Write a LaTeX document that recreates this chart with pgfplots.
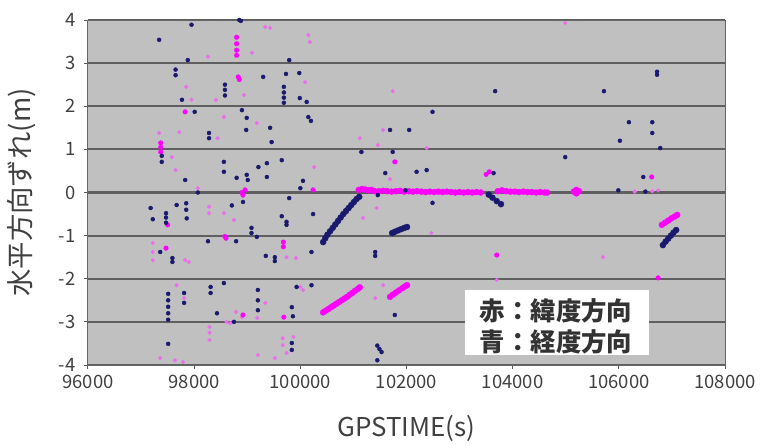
\documentclass[border=0pt]{standalone}
\usepackage{fontspec}
\setmainfont{Noto Sans CJK JP}
\usepackage{pgfplots}
\pgfplotsset{compat=1.18}
\definecolor{bg}{RGB}{192,192,192}
\definecolor{gridc}{RGB}{95,95,95}
\definecolor{navyc}{RGB}{25,25,110}
\definecolor{magc}{RGB}{255,0,255}
\definecolor{palemag}{RGB}{236,110,236}
\begin{document}
\begin{tikzpicture}
\begin{axis}[name=ax, scale only axis, width=637bp, height=345bp,
 xmin=96000, xmax=108000, ymin=-4, ymax=4,
 xtick={96000,98000,100000,102000,104000,106000,108000},
 xticklabels={96000,98000,100000,102000,104000,106000,108000},
 ytick={-4,-3,-2,-1,0,1,2,3,4},
 yticklabels={-4,-3,-2,-1,0,1,2,3,4},
 scaled x ticks=false,
 ticklabel style={font=\fontsize{18.5}{18.5}\selectfont, text=black!75},
 yticklabel style={xshift=-5bp},
 xticklabel style={yshift=-3bp},
 ymajorgrids, major grid style={draw=gridc, line width=2.2bp},
 axis line style={draw=gray!80!black, line width=1bp},
 tick style={draw=gray!70!black, line width=1bp},
 tick align=outside, major tick length=4bp,
 xtick pos=bottom, ytick pos=left,
 axis background/.style={fill=bg},
 xlabel={GPSTIME(s)}, ylabel={水平方向ずれ(m)},
 xlabel style={font=\fontsize{26}{26}\selectfont, text=black!75, at={(axis description cs:0.5,-0.183)}, anchor=center},
 ylabel style={font=\fontsize{27.5}{27.5}\selectfont, text=black!75, at={(axis description cs:-0.104,0.5)}, anchor=center},
]
% pale magenta scatter (latitude)
\addplot[only marks, mark=*, mark size=1.9bp, color=palemag] coordinates {
(99340,3.84) (99430,3.82) (99090,3.24) (98260,3.15) (97850,2.45) (97950,2.15)
(98410,2.15) (98940,2.26) (98560,1.75) (99180,1.61) (98440,1.26) (97340,1.38)
(97580,0.82) (97720,1.4) (97650,0.52) (98070,0.1) (98280,-0.33) (98280,-0.48)
(98560,-0.48) (98750,-0.64) (97220,-1.17) (97220,-1.38) (97220,-1.57) (97830,-1.57)
(97900,-1.61) (99740,-1.5) (97670,-2.15) (97810,-2.45) (99340,-2.56) (98790,-2.77)
(98900,-2.89) (98610,-3.0) (98680,-3.03) (99190,-2.91) (98290,-3.12) (98290,-3.25)
(98290,-3.42) (99670,-3.38) (99670,-3.54) (97360,-3.84) (97640,-3.89) (97790,-3.93)
(99200,-3.77) (99520,-3.84) (99740,-3.72) (100150,3.65) (100180,3.49) (100090,2.56)
(101740,2.35) (101560,1.45) (101120,1.26) (101460,1.1) (102380,1.03) (100260,0.59)
(101690,0.31) (101180,-0.59) (101440,-0.36) (102470,-0.94) (99920,-1.52) (100050,-2.26)
(100000,-2.19) (101410,-2.45) (101560,-2.15) (99870,-3.35) (104990,3.93) (105700,-1.5)
(103700,-2.03) (106630,0.03) (106740,0.05) (106300,0.02)
};
% bright magenta scatter
\addplot[only marks, mark=*, mark size=2.3bp, color=magc] coordinates {
(98800,3.6) (98800,3.45) (98800,3.3) (98800,3.18) (98830,2.68) (98850,2.62)
(97830,1.87) (97370,1.15) (97370,1.05) (97370,0.94) (98960,0.06) (98920,-0.06)
(98900,0.0) (97500,-0.75) (98600,-1.06) (98580,-1.02) (99680,-1.15) (99680,-1.26)
(97470,-1.29) (98920,-2.84) (99690,-2.89) (101780,0.71) (100240,0.06)
(106620,0.36) (103700,-1.45) (106740,-1.98) (103500,0.42) (103560,0.48)
};
% magenta bands
\addplot[only marks, mark=*, mark size=3bp, color=magc] coordinates {
(100430,-2.78) (100480,-2.74) (100530,-2.7) (100580,-2.66) (100630,-2.62) (100680,-2.58)
(100730,-2.54) (100780,-2.5) (100830,-2.46) (100880,-2.42) (100930,-2.37) (100980,-2.33)
(101030,-2.28) (101080,-2.24) (101120,-2.2)
(101690,-2.42) (101740,-2.37) (101800,-2.32) (101860,-2.27) (101920,-2.22) (101970,-2.18) (102010,-2.15)
(106810,-0.75) (106870,-0.7) (106930,-0.65) (106990,-0.6) (107050,-0.56) (107100,-0.52)
(101100,0.06) (101160,0.08) (101220,0.07) (101280,0.05) (101340,0.06) (101400,0.03)
(101480,0.03) (101560,0.04) (101640,0.03) (101720,0.02) (101800,0.03) (101880,0.04)
(101960,0.02) (102040,0.03) (102120,0.02) (102200,0.03) (102280,0.02) (102360,0.01)
(102440,0.02) (102520,0.01) (102600,0.02) (102680,0.01) (102760,0.02) (102840,0.01)
(102920,0.0) (103000,0.01) (103080,0.0) (103160,0.01) (103240,0.0) (103320,0.01) (103400,0.0)
(103720,0.03) (103800,0.05) (103880,0.03) (103960,0.02) (104040,0.02) (104120,0.01)
(104200,0.02) (104280,0.01) (104360,0.01) (104440,0.0) (104520,0.01) (104600,0.0) (104650,0.0)
(105150,0.02) (105200,-0.02) (105250,0.03) (105200,0.06)
};
% navy scatter (longitude)
\addplot[only marks, mark=*, mark size=2bp, color=navyc] coordinates {
(97950,3.89) (97340,3.54) (97880,3.07) (99790,3.07) (97650,2.85) (97650,2.72)
(99300,2.68) (99730,2.75) (98580,2.5) (98580,2.38) (98580,2.25) (99690,2.45)
(99690,2.32) (99690,2.2) (99690,2.08) (97770,2.15) (98010,1.87) (98900,1.91)
(98990,1.73) (98980,1.45) (99430,1.5) (99460,1.17) (98280,1.38) (98280,1.26)
(97390,0.71) (97390,0.85) (98560,0.71) (98560,0.48) (99650,0.75) (99370,0.68)
(99210,0.59) (98800,0.34) (98990,0.41) (99010,0.29) (99370,0.36) (97830,0.29)
(98070,0.0) (98920,-0.22) (97670,-0.29) (97850,-0.25) (97850,-0.4) (97180,-0.36)
(97220,-0.62) (97470,-0.48) (97470,-0.58) (97470,-0.7) (97860,-0.6) (98710,-0.3)
(99790,-0.13) (99650,-0.55) (99740,-0.68) (99740,-0.75) (99080,-0.82) (99080,-0.94)
(98260,-1.13) (98790,-1.13) (99180,-1.03) (97360,-1.38) (97590,-1.52) (97590,-1.61)
(99350,-1.47) (99520,-1.5) (99520,-1.59) (98560,-2.1) (98310,-2.19) (98310,-2.33)
(97510,-2.35) (97510,-2.5) (97510,-2.65) (97510,-2.8) (97510,-2.95) (97810,-2.33)
(97810,-2.56) (99200,-2.26) (99200,-2.5) (99200,-2.73) (99840,-2.66) (99860,-2.87)
(99930,-2.19) (98430,-2.8) (98750,-3.0) (97510,-3.51) (99840,-3.49) (99840,-3.65)
(99980,2.77) (99990,2.19) (100120,2.1) (102490,1.87) (100150,1.75) (100200,1.66)
(101690,1.45) (102050,1.45) (101150,0.94) (101740,0.94) (101600,0.45) (102190,0.48)
(102380,0.52) (100050,0.27) (100000,0.1) (100240,-0.5) (101460,-0.06) (102490,-0.24)
(101410,-1.38) (101410,-1.47) (100210,-1.38) (100210,-2.15) (101780,-2.84)
(101450,-3.55) (101490,-3.63) (101530,-3.7) (101450,-3.89)
(106720,2.73) (106720,2.8) (103670,2.35) (105720,2.35) (106190,1.63) (106630,1.63)
(106630,1.38) (106020,1.2) (106780,1.03) (104990,0.82) (106460,0.36) (105990,0.05)
(103640,0.45) (101980,0.05) (106500,0.02) (98850,4.0) (98880,3.98)
};
% navy bands
\addplot[only marks, mark=*, mark size=3bp, color=navyc] coordinates {
(100430,-1.15) (100470,-1.06) (100510,-0.98) (100560,-0.9) (100610,-0.82) (100660,-0.74)
(100710,-0.66) (100760,-0.58) (100810,-0.5) (100860,-0.43) (100910,-0.36) (100960,-0.29)
(101010,-0.22) (101060,-0.15) (101110,-0.1)
(101730,-0.94) (101780,-0.91) (101840,-0.88) (101900,-0.85) (101960,-0.82) (102010,-0.8)
(103550,-0.05) (103620,-0.12) (103700,-0.2) (103780,-0.27)
(106830,-1.22) (106880,-1.14) (106930,-1.07) (106980,-1.0) (107030,-0.93) (107080,-0.87)
};
\fill[white] (rel axis cs:0.592,0.029) rectangle (rel axis cs:0.881,0.217);
\node[anchor=west, font=\fontsize{25.5}{25.5}\selectfont\bfseries, text=black!80, inner sep=0pt] at (rel axis cs:0.615,0.158) {赤：緯度方向};
\node[anchor=west, font=\fontsize{25.5}{25.5}\selectfont\bfseries, text=black!80, inner sep=0pt] at (rel axis cs:0.615,0.066) {青：経度方向};
\end{axis}
\pgfresetboundingbox
\path ([shift={(-88bp,-80bp)}]ax.south west) rectangle ([shift={(35bp,20bp)}]ax.north east);
\end{tikzpicture}
\end{document}
